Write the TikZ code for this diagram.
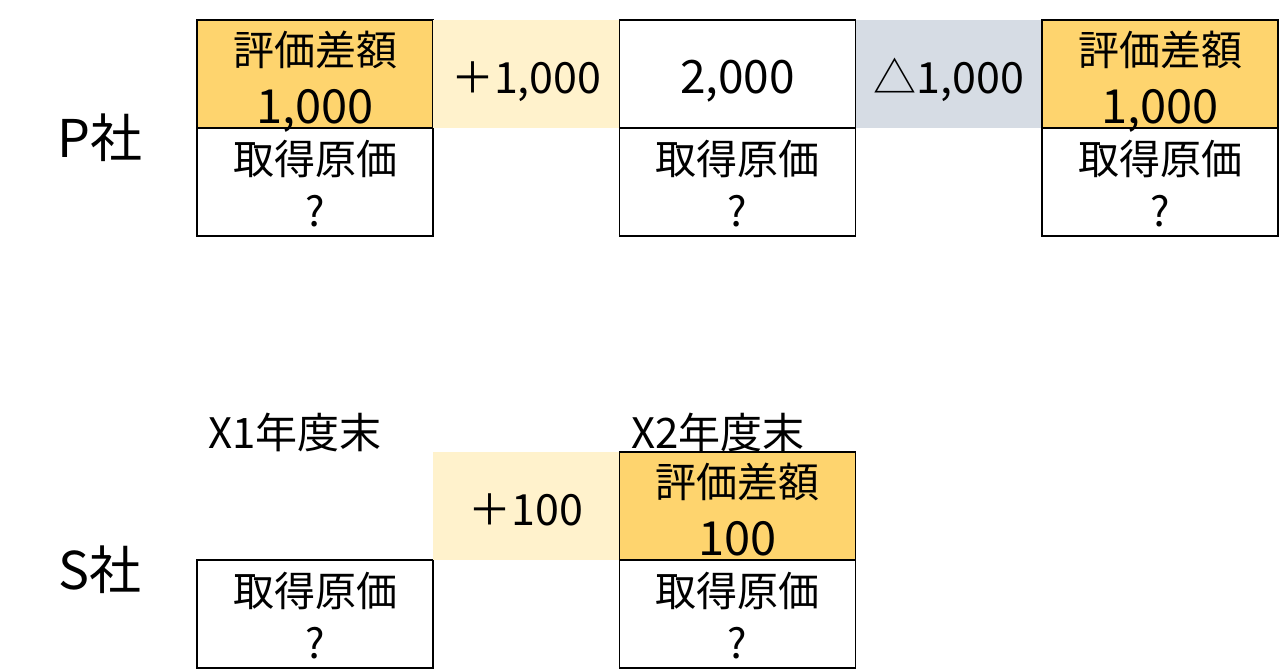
\documentclass[tikz,border=0pt]{standalone}
\usepackage{fontspec}
\setmainfont{Noto Sans CJK JP}
\usetikzlibrary{positioning}

\definecolor{valgold}{HTML}{FED46E}
\definecolor{upband}{HTML}{FFF2CC}
\definecolor{downband}{HTML}{D6DCE4}

\newcommand{\bignum}[1]{{\fontsize{23.5}{29}\selectfont #1}}

\tikzset{
  cell/.style={draw=black, line width=0.9pt, minimum width=118pt, minimum height=54pt,
    inner sep=0pt, outer sep=0pt, align=center, text depth=0pt},
  costcell/.style={cell, font=\fontsize{20.5}{26.4}\selectfont, text height=44.8pt},
  diffcell/.style={cell, fill=valgold, font=\fontsize{20.5}{29}\selectfont, text height=49.8pt},
  numcell/.style={cell, font=\fontsize{23}{28}\selectfont, text height=19.8pt},
  band/.style={minimum width=93.25pt, minimum height=54pt, inner sep=0pt, outer sep=0pt,
    font=\fontsize{21.5}{26}\selectfont, text height=19.5pt, text depth=0pt},
  colbl/.style={font=\fontsize{26}{30}\selectfont},
  yearlbl/.style={font=\fontsize{21}{25}\selectfont}
}

\begin{document}
\begin{tikzpicture}[x = .5pt, y = -.5pt]
\useasboundingbox (0,0) rectangle (1280,671);
% P company
\node[colbl] (pco) at (100,138) {P社};
\node[diffcell] (p1top) at (315,74) {評価差額\\\bignum{1,000}};
\node[costcell, below=0pt of p1top] (p1bot) {取得原価\\?};
\node[band, fill=upband, right=0pt of p1top] (pup) {＋1,000};
\node[numcell, right=0pt of pup] (p2top) {2,000};
\node[costcell, below=0pt of p2top] (p2bot) {取得原価\\?};
\node[band, fill=downband, right=0pt of p2top] (pdown) {△1,000};
\node[diffcell, right=0pt of pdown] (p3top) {評価差額\\\bignum{1,000}};
\node[costcell, below=0pt of p3top] (p3bot) {取得原価\\?};
% S company
\node[colbl] (sco) at (100,570) {S社};
\node[yearlbl] (yr1) at (295,432) {X1年度末};
\node[costcell] (s1bot) at (315,614) {取得原価\\?};
\node[band, fill=upband] (sup) at (526.25,506) {＋100};
\node[diffcell, right=0pt of sup] (s2top) {評価差額\\\bignum{100}};
\node[costcell, below=0pt of s2top] (s2bot) {取得原価\\?};
\node[yearlbl] (yr2) at (718,432) {X2年度末};
\end{tikzpicture}
\end{document}
